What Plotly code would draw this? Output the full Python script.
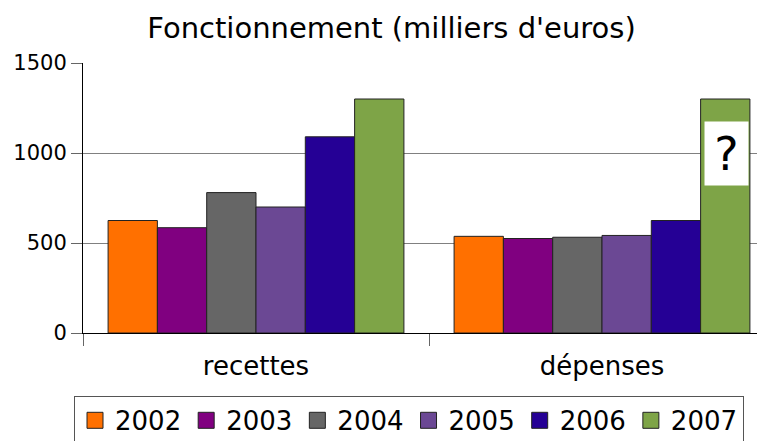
import plotly.graph_objects as go

categories = ["recettes", "dépenses"]
years = ["2002", "2003", "2004", "2005", "2006", "2007"]
recettes = [625, 585, 780, 700, 1090, 1300]
depenses = [537, 525, 532, 542, 625, 1300]
colors = ["#ff7000", "#800080", "#666666", "#6b4894", "#250095", "#7ea447"]
title = "Fonctionnement (milliers d'euros)"
y_ticks = [0, 500, 1000, 1500]

FONT = "DejaVu Sans"

fig = go.Figure()
for i, yr in enumerate(years):
    fig.add_trace(go.Bar(
        x=categories,
        y=[recettes[i], depenses[i]],
        name=yr, legendgroup=yr, showlegend=False,
        marker=dict(color=colors[i], line=dict(color="#222222", width=1)),
    ))
# legend-only entries with larger square swatches
for i, yr in enumerate(years):
    fig.add_trace(go.Scatter(
        x=[None], y=[None], mode="markers", name=yr, legendgroup=yr,
        marker=dict(symbol="square", size=16, color=colors[i],
                    line=dict(color="#222222", width=1)),
    ))

fig.add_annotation(
    x="dépenses", y=995, xref="x", yref="y",
    xshift=124, text="?", showarrow=False,
    font=dict(family=FONT, size=46, color="black"),
    bgcolor="white", width=43, height=63, borderpad=0,
)

fig.update_layout(
    width=767, height=441,
    margin=dict(l=75, r=0, t=55, b=116),
    paper_bgcolor="white", plot_bgcolor="white",
    barmode="group", bargap=0.145, bargroupgap=0,
    title=dict(text=title, x=0.5, xanchor="center", y=(441 - 20) / 441, yanchor="middle",
               font=dict(family=FONT, size=29, color="black")),
    font=dict(family=FONT, color="black"),
    showlegend=True,
    legend=dict(
        orientation="h", x=-0.013, xanchor="left",
        y=-0.233, yanchor="top",
        font=dict(family=FONT, size=26, color="black"),
        bordercolor="#555555", borderwidth=1, bgcolor="white",
        traceorder="normal",
    ),
    xaxis=dict(
        type="category", range=[-0.5, 1.5],
        showline=True, linecolor="black", linewidth=1,
        ticks="outside", tickson="boundaries", ticklen=12, tickcolor="#666666",
        tickfont=dict(family=FONT, size=26, color="black"),
        ticklabelstandoff=10,
        showgrid=False,
    ),
    yaxis=dict(
        range=[0, 1500], tickvals=y_ticks,
        showline=True, linecolor="black", linewidth=1,
        ticks="outside", ticklen=11, tickcolor="#666666",
        showgrid=True, gridcolor="#808080", gridwidth=1,
        zeroline=False,
        tickfont=dict(family=FONT, size=21, color="black"),
    ),
)

fig.write_html("out.html")
